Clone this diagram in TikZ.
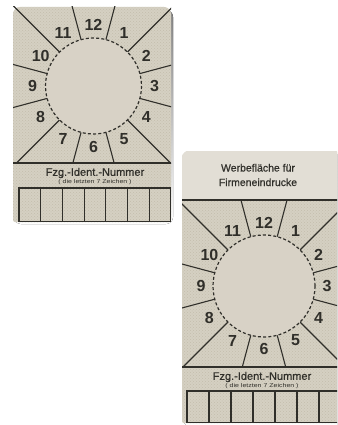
\documentclass[tikz,border=0pt]{standalone}
\usepackage{fontspec}
\setmainfont{Liberation Sans}
\newfontfamily\medsans[FakeBold=0.6]{Liberation Sans}
\usetikzlibrary{patterns,calc}
\definecolor{cardbg}{HTML}{D5D0C2}
\definecolor{speck}{HTML}{C3BDAD}
\definecolor{disc}{HTML}{D8D2C6}
\definecolor{hdr}{HTML}{E2DED5}
\definecolor{ink}{HTML}{302F2A}
\definecolor{shade}{HTML}{E8E8E6}
\tikzset{
  cardfill/.style={fill=cardbg},
  cardtex/.style={pattern=crosshatch dots, pattern color=speck},
  rayline/.style={draw=ink, line width=1.1pt},
  rimline/.style={draw=ink, line width=1.2pt, dash pattern=on 3pt off 2.2pt},
  sepline/.style={draw=ink, line width=1.2pt},
  cellbox/.style={draw=ink, line width=1.1pt},
  numlbl/.style={font=\fontsize{16}{16}\selectfont\bfseries, text=ink, inner sep=0pt},
  fzglbl/.style={font=\medsans\fontsize{11}{11}\selectfont, text=ink, inner sep=0pt},
  smalllbl/.style={font=\fontsize{5.6}{6}\selectfont, text=ink, inner sep=0pt},
  hdrlbl/.style={font=\medsans\fontsize{10.5}{14.5}\selectfont, text=ink, inner sep=0pt, align=center},
}
\begin{document}
\begin{tikzpicture}[x=1pt,y=-1pt]
\useasboundingbox (0,0) rectangle (337,425);
\fill[white] (0,0) rectangle (337,425);
\begin{scope}
\clip (0,0) rectangle (337,425);
% ---------- card 1 ----------
\fill[shade] (14,10) [rounded corners=7pt] -- (14,224) -- (173,224) -- (173,10) -- cycle;
\path[cardfill] (13,222) [rounded corners=7pt] -- (13,7) -- (171,7) [rounded corners=2pt] -- (171,222) -- cycle;
\path[cardtex] (13,222) [rounded corners=7pt] -- (13,7) -- (171,7) [rounded corners=2pt] -- (171,222) -- cycle;
\coordinate (c1) at (93.5,86);
\begin{scope}
\clip (13,7) rectangle (171,163);
\foreach \a in {15,45,...,345}
  \draw[rayline] ($(c1)+(\a:48)$) -- ($(c1)+(\a:220)$);
\end{scope}
\fill[disc] (c1) circle[radius=48];
\draw[rimline] (c1) circle[radius=48];
\foreach \k in {1,...,12}
  \node[numlbl] (n1-\k) at ($(c1)+({61*sin(30*\k)},{-61*cos(30*\k)})$) {\k};
\draw[sepline] (13,163) -- (171,163);
\node[fzglbl] (fzg1) at (95,173) {Fzg.-Ident.-Nummer};
\node[smalllbl] (sub1) at (95,182.5) {\scalebox{1.25}[1]{( die letzten 7 Zeichen )}};
\foreach \i in {0,...,6}
  \draw[cellbox] ({19+\i*21.7},188) rectangle ({19+(\i+1)*21.7},221.5);
% ---------- card 2 ----------
\fill[shade] (183,154) [rounded corners=7pt] -- (183,426) -- (343,426) -- (343,154) -- cycle;
\path[cardfill] (182,423) [rounded corners=7pt] -- (182,151) -- (341,151) [rounded corners=2pt] -- (341,423) -- cycle;
\path[cardtex] (182,423) [rounded corners=7pt] -- (182,151) -- (341,151) [rounded corners=2pt] -- (341,423) -- cycle;
\path[fill=hdr] (182,200) [rounded corners=7pt] -- (182,151) -- (341,151) [sharp corners] -- (341,200) -- cycle;
\node[hdrlbl] (werb) at (258,175) {Werbefläche für\\Firmeneindrucke};
\draw[sepline] (182,200) -- (341,200);
\coordinate (c2) at (264,286);
\begin{scope}
\clip (182,200) rectangle (341,367);
\foreach \a in {15,45,...,345}
  \draw[rayline] ($(c2)+(\a:51)$) -- ($(c2)+(\a:230)$);
\end{scope}
\fill[disc] (c2) circle[radius=51];
\draw[rimline] (c2) circle[radius=51];
\foreach \k in {1,...,12}
  \node[numlbl] (n2-\k) at ($(c2)+({63*sin(30*\k)},{-63*cos(30*\k)})$) {\k};
\draw[sepline] (182,367) -- (341,367);
\node[fzglbl] (fzg2) at (262,377) {Fzg.-Ident.-Nummer};
\node[smalllbl] (sub2) at (262,386) {\scalebox{1.25}[1]{( die letzten 7 Zeichen )}};
\foreach \i in {0,...,6}
  \draw[cellbox] ({187+\i*22},391) rectangle ({187+(\i+1)*22},422.5);
\end{scope}
\end{tikzpicture}
\end{document}
